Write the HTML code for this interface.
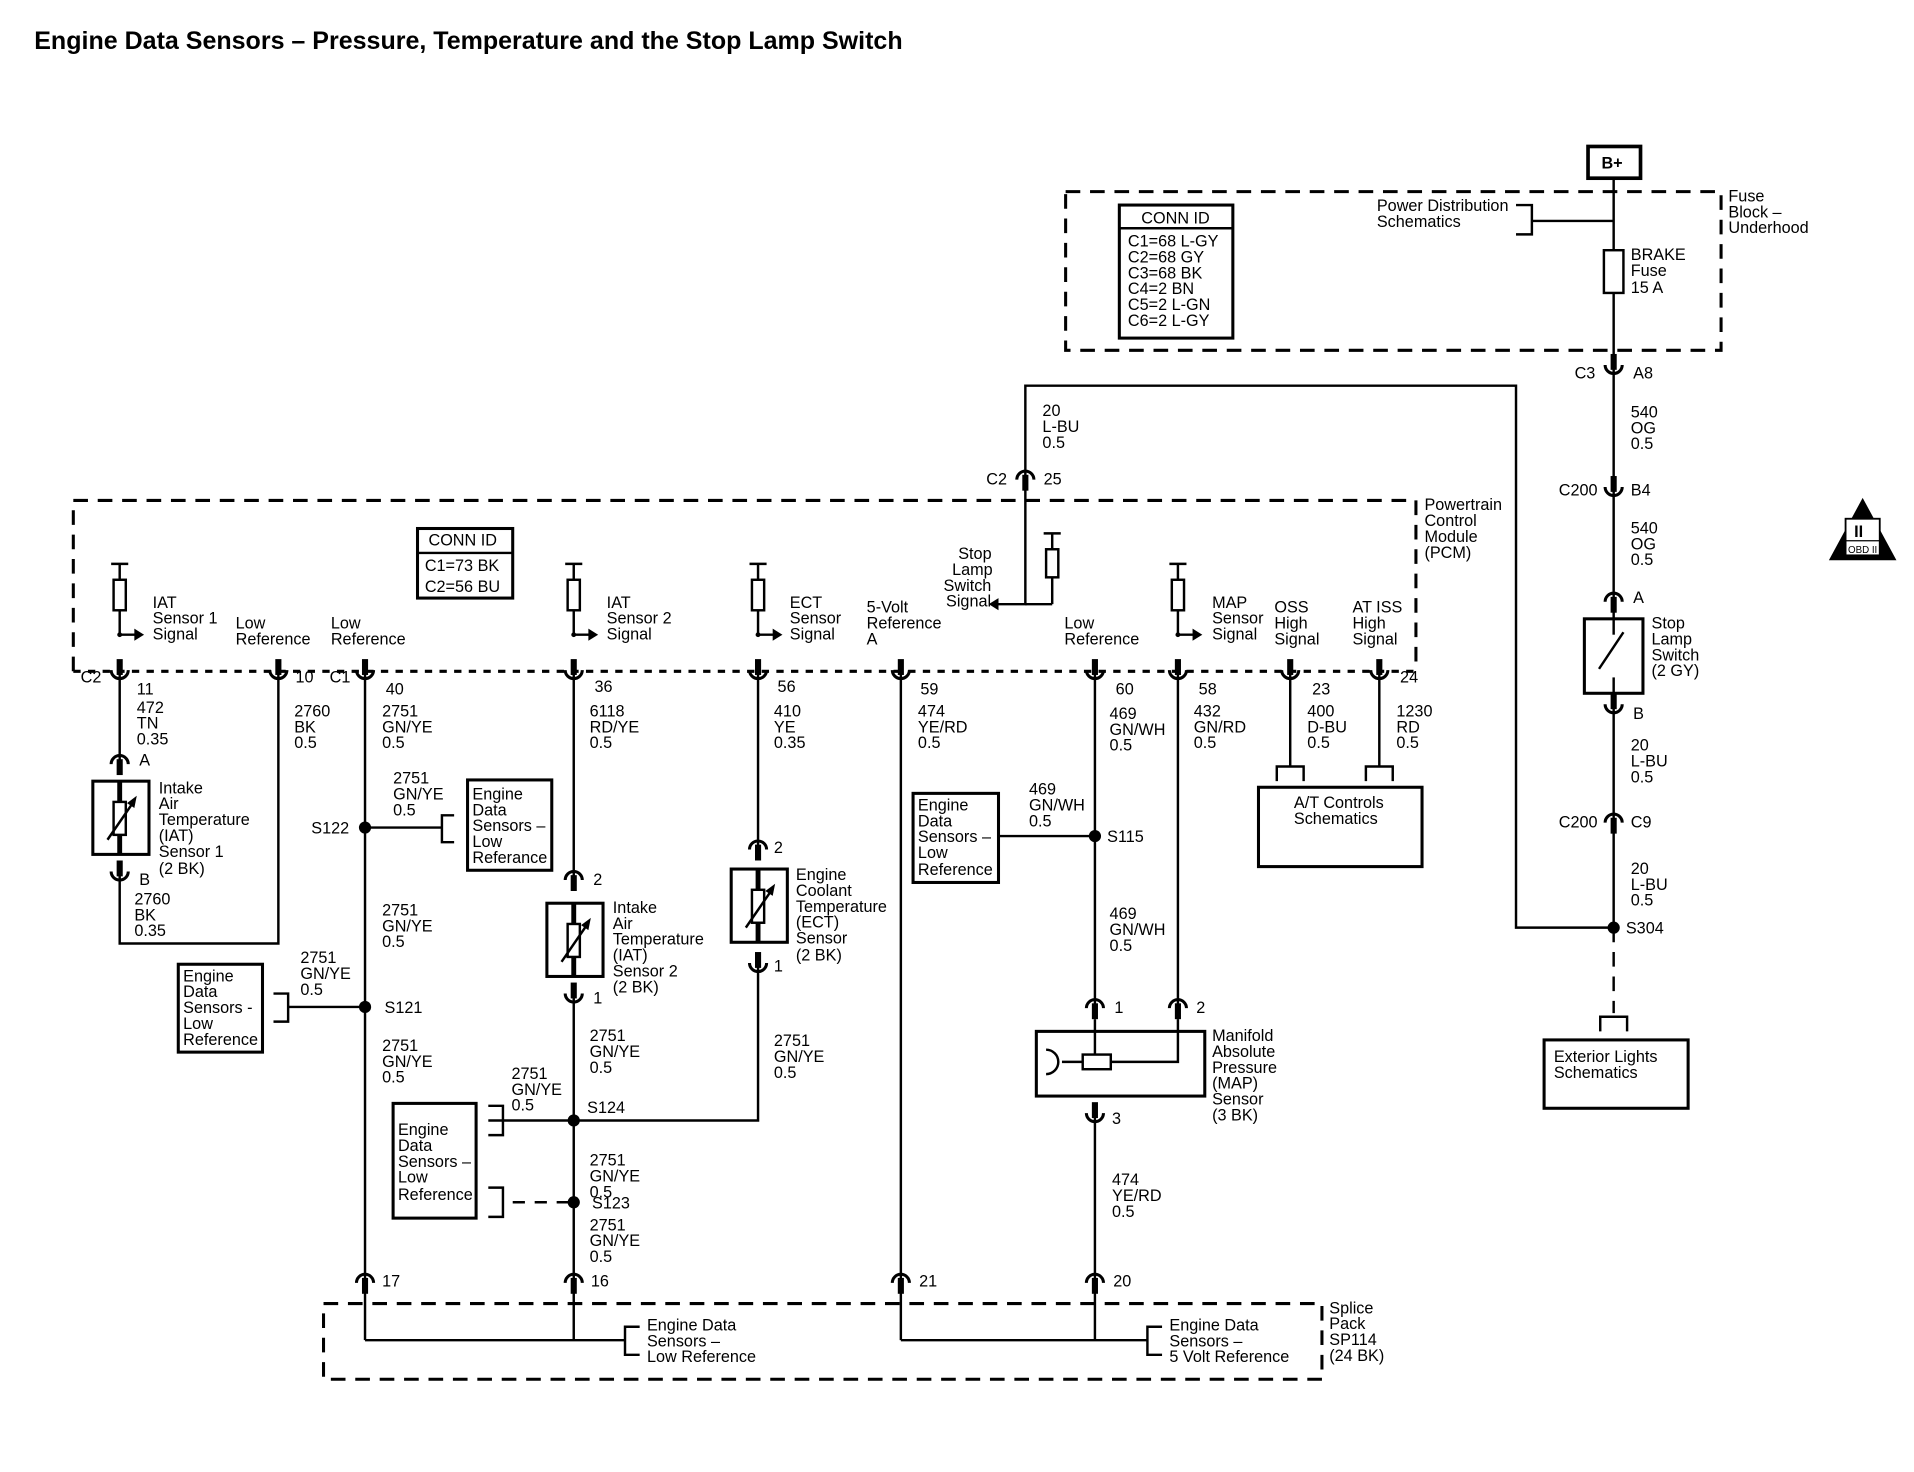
<!DOCTYPE html>
<html><head><meta charset="utf-8"><style>
html,body{margin:0;padding:0;background:#fff}
svg{display:block}
text{font-family:"Liberation Sans",Arial,sans-serif;font-size:13.3px;fill:#000;letter-spacing:0}
.t{font-weight:bold;font-size:20.5px;letter-spacing:0}
</style></head><body>
<svg width="1914" height="1472" viewBox="0 0 1568 1206" xmlns="http://www.w3.org/2000/svg">
<defs>
<g id="cup"><path d="M-7,-1 A7,7 0 0 0 7,-1" fill="none" stroke="#000" stroke-width="2.5"/><line x1="0" y1="-10" x2="0" y2="3" stroke="#000" stroke-width="5"/></g>
<g id="cap"><path d="M-7,1 A7,7 0 0 1 7,1" fill="none" stroke="#000" stroke-width="2.5"/><line x1="0" y1="-3" x2="0" y2="10" stroke="#000" stroke-width="5"/></g>
<g id="pull"><line x1="-7" y1="0" x2="7" y2="0" stroke="#000" stroke-width="2"/><line x1="0" y1="0" x2="0" y2="58" stroke="#000" stroke-width="2"/><rect x="-5" y="13" width="10" height="25" fill="#fff" stroke="#000" stroke-width="2"/><line x1="0" y1="58" x2="14" y2="58" stroke="#000" stroke-width="2"/><path d="M12,53 L20,58 L12,63 Z"/><circle cx="0" cy="58" r="2"/></g>
<g id="therm"><rect x="-22" y="0" width="46" height="60" fill="#fff" stroke="#000" stroke-width="2.5"/><rect x="-5" y="17" width="10" height="27" fill="none" stroke="#000" stroke-width="2"/><line x1="-10" y1="48" x2="12" y2="16" stroke="#000" stroke-width="2"/><path d="M14,12 L6,18 L12,22 Z"/><line x1="0" y1="0" x2="0" y2="17" stroke="#000" stroke-width="4"/><line x1="0" y1="44" x2="0" y2="60" stroke="#000" stroke-width="4"/></g>
</defs>
<g stroke="#000" fill="none" stroke-width="2">
<rect x="873" y="157" width="537" height="130" stroke-dasharray="12,8" stroke-width="2.5"/>
<rect x="1301" y="120" width="43" height="26" stroke-width="3"/>
<rect x="917" y="168" width="93" height="109" stroke-width="2.5"/>
<line x1="917" y1="187" x2="1010" y2="187"/>
<polyline points="1242,168 1255,168 1255,192 1242,192"/>
<line x1="1255" y1="181" x2="1322" y2="181"/>
<line x1="1322" y1="146" x2="1322" y2="300"/>
<rect x="1314" y="205" width="16" height="35" fill="#fff"/>
<line x1="1322" y1="300" x2="1322" y2="492"/>
<rect x="1298" y="507" width="48" height="61" stroke-width="2.5"/>
<line x1="1322" y1="500" x2="1322" y2="520"/><line x1="1322" y1="555" x2="1322" y2="580"/>
<line x1="1310" y1="548" x2="1330" y2="518"/>
<line x1="1322" y1="580" x2="1322" y2="760"/>
<polyline points="1322,760 1242,760 1242,316 840,316 840,495 818,495"/>
<line x1="1322" y1="760" x2="1322" y2="830" stroke-dasharray="12,8"/>
<polyline points="1311,845 1311,833 1333,833 1333,845"/>
<rect x="1265" y="852" width="118" height="56" stroke-width="2.5"/>
<polyline points="60,550 60,410 1160,410 1160,550" stroke-dasharray="12,8" stroke-width="2.5"/>
<line x1="60" y1="550" x2="1160" y2="550" stroke-dasharray="6,6" stroke-width="2.5"/>
<rect x="342" y="433" width="78" height="57" stroke-width="2.5"/>
<line x1="342" y1="453" x2="420" y2="453"/>
<line x1="855" y1="437" x2="869" y2="437"/><line x1="862" y1="437" x2="862" y2="495"/><rect x="857" y="450" width="10" height="23" fill="#fff"/><line x1="840" y1="495" x2="862" y2="495"/>
<polyline points="98,550 98,625"/>
<polyline points="98,715 98,773 228,773 228,550"/>
<line x1="299" y1="550" x2="299" y2="1098"/>
<line x1="299" y1="678" x2="362" y2="678"/><polyline points="372,668 362,668 362,690 372,690"/>
<rect x="383" y="639" width="69" height="74" stroke-width="2.5"/>
<line x1="236" y1="825" x2="299" y2="825"/><polyline points="224,814 236,814 236,837 224,837"/>
<rect x="146" y="790" width="69" height="72" stroke-width="2.5"/>
<line x1="470" y1="550" x2="470" y2="720"/>
<line x1="470" y1="815" x2="470" y2="1098"/>
<polyline points="400,918 621,918 621,790"/>
<line x1="621" y1="550" x2="621" y2="695"/>
<polyline points="400,906 412,906 412,930 400,930"/>
<rect x="322" y="904" width="68" height="94" stroke-width="2.5"/>
<polyline points="400,973 412,973 412,997 400,997"/>
<line x1="420" y1="985" x2="470" y2="985" stroke-dasharray="10,8"/>
<line x1="738" y1="550" x2="738" y2="1098"/>
<line x1="897" y1="550" x2="897" y2="825"/>
<line x1="818" y1="685" x2="897" y2="685"/>
<rect x="748" y="650" width="70" height="73" stroke-width="2.5"/>
<line x1="965" y1="550" x2="965" y2="825"/>
<rect x="849" y="845" width="138" height="53" stroke-width="2.5"/>
<polyline points="965,835 965,870 910,870"/>
<rect x="887" y="864" width="23" height="12" fill="#fff"/>
<line x1="870" y1="870" x2="887" y2="870"/>
<path d="M857,860 A10,10 0 0 1 857,880"/>
<line x1="897" y1="835" x2="897" y2="864"/>
<line x1="897" y1="913" x2="897" y2="1098"/>
<line x1="1057" y1="550" x2="1057" y2="628"/><line x1="1130" y1="550" x2="1130" y2="628"/>
<polyline points="1046,640 1046,628 1068,628 1068,640"/><polyline points="1119,640 1119,628 1141,628 1141,640"/>
<rect x="1031" y="645" width="134" height="65" stroke-width="2.5"/>
<rect x="265" y="1068" width="818" height="62" stroke-dasharray="12,8" stroke-width="2.5"/>
<polyline points="299,1098 512,1098"/><polyline points="524,1087 512,1087 512,1110 524,1110"/>
<polyline points="738,1098 940,1098"/><polyline points="952,1087 940,1087 940,1110 952,1110"/>
<path d="M1526,410 L1552,458 L1500,458 Z" fill="#000"/>
<rect x="1512" y="425" width="28" height="30" fill="#fff" stroke="#000" stroke-width="1.5"/>
<line x1="1512" y1="443" x2="1540" y2="443" stroke-width="1"/>
</g>
<use href="#therm" x="98" y="640"/>
<use href="#therm" x="470" y="740"/>
<use href="#therm" x="621" y="712"/>
<use href="#pull" x="98" y="462"/>
<use href="#pull" x="470" y="462"/>
<use href="#pull" x="621" y="462"/>
<use href="#pull" x="965" y="462"/>
<path d="M818,490 L810,495 L818,500 Z"/>
<use href="#cup" x="98" y="550"/><use href="#cup" x="228" y="550"/><use href="#cup" x="299" y="550"/><use href="#cup" x="470" y="550"/><use href="#cup" x="621" y="550"/><use href="#cup" x="738" y="550"/><use href="#cup" x="897" y="550"/><use href="#cup" x="965" y="550"/><use href="#cup" x="1057" y="550"/><use href="#cup" x="1130" y="550"/>
<use href="#cap" x="98" y="625"/><use href="#cup" x="98" y="715"/>
<use href="#cap" x="470" y="720"/><use href="#cup" x="470" y="815"/>
<use href="#cap" x="621" y="695"/><use href="#cup" x="621" y="790"/>
<use href="#cap" x="897" y="825"/><use href="#cap" x="965" y="825"/><use href="#cup" x="897" y="913"/>
<use href="#cap" x="299" y="1050"/><use href="#cap" x="470" y="1050"/><use href="#cap" x="738" y="1050"/><use href="#cap" x="897" y="1050"/>
<use href="#cap" x="840" y="392"/>
<use href="#cup" x="1322" y="300"/><use href="#cup" x="1322" y="400"/><use href="#cap" x="1322" y="492"/><use href="#cup" x="1322" y="578"/><use href="#cap" x="1322" y="673"/>
<circle cx="299" cy="678" r="5"/><circle cx="299" cy="825" r="5"/><circle cx="470" cy="918" r="5"/><circle cx="470" cy="985" r="5"/><circle cx="897" cy="685" r="5"/><circle cx="1322" cy="760" r="5"/>
<text class="t" x="28" y="40">Engine Data Sensors – Pressure, Temperature and the Stop Lamp Switch</text>
<text x="1312" y="138" font-weight="bold">B+</text>
<text x="1416" y="165">Fuse</text><text x="1416" y="178">Block –</text><text x="1416" y="191">Underhood</text>
<text x="935" y="183">CONN ID</text>
<text x="924" y="202">C1=68 L-GY</text><text x="924" y="215">C2=68 GY</text><text x="924" y="228">C3=68 BK</text><text x="924" y="241">C4=2 BN</text><text x="924" y="254">C5=2 L-GN</text><text x="924" y="267">C6=2 L-GY</text>
<text x="1128" y="173">Power Distribution</text><text x="1128" y="186">Schematics</text>
<text x="1336" y="213">BRAKE</text><text x="1336" y="226">Fuse</text><text x="1336" y="240">15 A</text>
<text x="1290" y="310">C3</text><text x="1338" y="310">A8</text>
<text x="1336" y="342">540</text><text x="1336" y="355">OG</text><text x="1336" y="368">0.5</text>
<text x="1277" y="406">C200</text><text x="1336" y="406">B4</text>
<text x="1336" y="437">540</text><text x="1336" y="450">OG</text><text x="1336" y="463">0.5</text>
<text x="1338" y="494">A</text><text x="1338" y="589">B</text>
<text x="1353" y="515">Stop</text><text x="1353" y="528">Lamp</text><text x="1353" y="541">Switch</text><text x="1353" y="554">(2 GY)</text>
<text x="1336" y="615">20</text><text x="1336" y="628">L-BU</text><text x="1336" y="641">0.5</text>
<text x="1277" y="678">C200</text><text x="1336" y="678">C9</text>
<text x="1336" y="716">20</text><text x="1336" y="729">L-BU</text><text x="1336" y="742">0.5</text>
<text x="1332" y="765">S304</text>
<text x="1273" y="870">Exterior Lights</text><text x="1273" y="883">Schematics</text>
<text x="1519" y="440" font-weight="bold">II</text><text x="1514" y="453" style="font-size:8px">OBD II</text>
<text x="854" y="341">20</text><text x="854" y="354">L-BU</text><text x="854" y="367">0.5</text>
<text x="808" y="397">C2</text><text x="855" y="397">25</text>
<text x="1167" y="418">Powertrain</text><text x="1167" y="431">Control</text><text x="1167" y="444">Module</text><text x="1167" y="457">(PCM)</text>
<text x="351" y="447">CONN ID</text><text x="348" y="468">C1=73 BK</text><text x="348" y="485">C2=56 BU</text>
<text x="125" y="498">IAT</text><text x="125" y="511">Sensor 1</text><text x="125" y="524">Signal</text>
<text x="193" y="515">Low</text><text x="193" y="528">Reference</text>
<text x="271" y="515">Low</text><text x="271" y="528">Reference</text>
<text x="497" y="498">IAT</text><text x="497" y="511">Sensor 2</text><text x="497" y="524">Signal</text>
<text x="647" y="498">ECT</text><text x="647" y="511">Sensor</text><text x="647" y="524">Signal</text>
<text x="710" y="502">5-Volt</text><text x="710" y="515">Reference</text><text x="710" y="528">A</text>
<text x="785" y="458">Stop</text><text x="780" y="471">Lamp</text><text x="773" y="484">Switch</text><text x="775" y="497">Signal</text>
<text x="872" y="515">Low</text><text x="872" y="528">Reference</text>
<text x="993" y="498">MAP</text><text x="993" y="511">Sensor</text><text x="993" y="524">Signal</text>
<text x="1044" y="502">OSS</text><text x="1044" y="515">High</text><text x="1044" y="528">Signal</text>
<text x="1108" y="502">AT ISS</text><text x="1108" y="515">High</text><text x="1108" y="528">Signal</text>
<text x="66" y="559">C2</text><text x="112" y="569">11</text><text x="242" y="559">10</text><text x="270" y="559">C1</text><text x="316" y="569">40</text><text x="487" y="567">36</text><text x="637" y="567">56</text><text x="754" y="569">59</text><text x="914" y="569">60</text><text x="982" y="569">58</text><text x="1075" y="569">23</text><text x="1147" y="559">24</text>
<text x="112" y="584">472</text><text x="112" y="597">TN</text><text x="112" y="610">0.35</text>
<text x="114" y="627">A</text><text x="114" y="725">B</text>
<text x="130" y="650">Intake</text><text x="130" y="663">Air</text><text x="130" y="676">Temperature</text><text x="130" y="689">(IAT)</text><text x="130" y="702">Sensor 1</text><text x="130" y="716">(2 BK)</text>
<text x="110" y="741">2760</text><text x="110" y="754">BK</text><text x="110" y="767">0.35</text>
<text x="241" y="587">2760</text><text x="241" y="600">BK</text><text x="241" y="613">0.5</text>
<text x="313" y="587">2751</text><text x="313" y="600">GN/YE</text><text x="313" y="613">0.5</text>
<text x="322" y="642">2751</text><text x="322" y="655">GN/YE</text><text x="322" y="668">0.5</text>
<text x="255" y="683">S122</text>
<text x="387" y="655">Engine</text><text x="387" y="668">Data</text><text x="387" y="681">Sensors –</text><text x="387" y="694">Low</text><text x="387" y="707">Referance</text>
<text x="313" y="750">2751</text><text x="313" y="763">GN/YE</text><text x="313" y="776">0.5</text>
<text x="246" y="789">2751</text><text x="246" y="802">GN/YE</text><text x="246" y="815">0.5</text>
<text x="315" y="830">S121</text>
<text x="150" y="804">Engine</text><text x="150" y="817">Data</text><text x="150" y="830">Sensors -</text><text x="150" y="843">Low</text><text x="150" y="856">Reference</text>
<text x="313" y="861">2751</text><text x="313" y="874">GN/YE</text><text x="313" y="887">0.5</text>
<text x="483" y="587">6118</text><text x="483" y="600">RD/YE</text><text x="483" y="613">0.5</text>
<text x="486" y="725">2</text><text x="486" y="822">1</text>
<text x="502" y="748">Intake</text><text x="502" y="761">Air</text><text x="502" y="774">Temperature</text><text x="502" y="787">(IAT)</text><text x="502" y="800">Sensor 2</text><text x="502" y="813">(2 BK)</text>
<text x="483" y="853">2751</text><text x="483" y="866">GN/YE</text><text x="483" y="879">0.5</text>
<text x="419" y="884">2751</text><text x="419" y="897">GN/YE</text><text x="419" y="910">0.5</text>
<text x="481" y="912">S124</text>
<text x="326" y="930">Engine</text><text x="326" y="943">Data</text><text x="326" y="956">Sensors –</text><text x="326" y="969">Low</text><text x="326" y="983">Reference</text>
<text x="483" y="955">2751</text><text x="483" y="968">GN/YE</text><text x="483" y="981">0.5</text>
<text x="485" y="990">S123</text>
<text x="483" y="1008">2751</text><text x="483" y="1021">GN/YE</text><text x="483" y="1034">0.5</text>
<text x="634" y="587">410</text><text x="634" y="600">YE</text><text x="634" y="613">0.35</text>
<text x="634" y="699">2</text><text x="634" y="796">1</text>
<text x="652" y="721">Engine</text><text x="652" y="734">Coolant</text><text x="652" y="747">Temperature</text><text x="652" y="760">(ECT)</text><text x="652" y="773">Sensor</text><text x="652" y="787">(2 BK)</text>
<text x="634" y="857">2751</text><text x="634" y="870">GN/YE</text><text x="634" y="883">0.5</text>
<text x="752" y="587">474</text><text x="752" y="600">YE/RD</text><text x="752" y="613">0.5</text>
<text x="909" y="589">469</text><text x="909" y="602">GN/WH</text><text x="909" y="615">0.5</text>
<text x="843" y="651">469</text><text x="843" y="664">GN/WH</text><text x="843" y="677">0.5</text>
<text x="752" y="664">Engine</text><text x="752" y="677">Data</text><text x="752" y="690">Sensors –</text><text x="752" y="703">Low</text><text x="752" y="717">Reference</text>
<text x="907" y="690">S115</text>
<text x="909" y="753">469</text><text x="909" y="766">GN/WH</text><text x="909" y="779">0.5</text>
<text x="913" y="830">1</text><text x="980" y="830">2</text><text x="911" y="921">3</text>
<text x="993" y="853">Manifold</text><text x="993" y="866">Absolute</text><text x="993" y="879">Pressure</text><text x="993" y="892">(MAP)</text><text x="993" y="905">Sensor</text><text x="993" y="918">(3 BK)</text>
<text x="911" y="971">474</text><text x="911" y="984">YE/RD</text><text x="911" y="997">0.5</text>
<text x="978" y="587">432</text><text x="978" y="600">GN/RD</text><text x="978" y="613">0.5</text>
<text x="1071" y="587">400</text><text x="1071" y="600">D-BU</text><text x="1071" y="613">0.5</text>
<text x="1144" y="587">1230</text><text x="1144" y="600">RD</text><text x="1144" y="613">0.5</text>
<text x="1060" y="662">A/T Controls</text><text x="1060" y="675">Schematics</text>
<text x="313" y="1054">17</text><text x="484" y="1054">16</text><text x="753" y="1054">21</text><text x="912" y="1054">20</text>
<text x="530" y="1090">Engine Data</text><text x="530" y="1103">Sensors –</text><text x="530" y="1116">Low Reference</text>
<text x="958" y="1090">Engine Data</text><text x="958" y="1103">Sensors –</text><text x="958" y="1116">5 Volt Reference</text>
<text x="1089" y="1076">Splice</text><text x="1089" y="1089">Pack</text><text x="1089" y="1102">SP114</text><text x="1089" y="1115">(24 BK)</text>
</svg>
</body></html>
